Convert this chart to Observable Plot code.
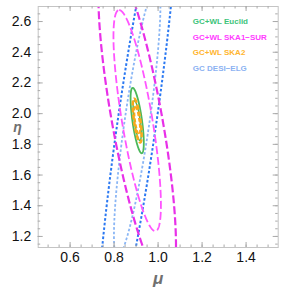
<!DOCTYPE html>
<html><head><meta charset="utf-8">
<script src="https://cdn.jsdelivr.net/npm/d3@7"></script>
<script src="https://cdn.jsdelivr.net/npm/@observablehq/plot@0.6"></script>
<style>body{margin:0;background:#fff;}</style>
</head><body><div id="chart"></div>
<script>
// Axis ticks
const xTicks = [0.6, 0.8, 1.0, 1.2, 1.4];
const yTicks = [1.2, 1.4, 1.6, 1.8, 2.0, 2.2, 2.4, 2.6];
const xMinor = [0.5,0.55,0.6,0.65,0.7,0.75,0.8,0.85,0.9,0.95,1.0,1.05,1.1,1.15,1.2,1.25,1.3,1.35,1.4,1.45,1.5];
const yMinor = [1.15,1.2,1.25,1.3,1.35,1.4,1.45,1.5,1.55,1.6,1.65,1.7,1.75,1.8,1.85,1.9,1.95,2.0,2.05,2.1,2.15,2.2,2.25,2.3,2.35,2.4,2.45,2.5,2.55,2.6,2.65];

// Legend
const legendLabels = ["GC+WL Euclid", "GC+WL SKA1\u2212SUR", "GC+WL SKA2", "GC DESI\u2212ELG"];
const legendColors = ["#3cc47a", "#ff3cff", "#ffb52e", "#8cb2f2"];

// Confidence contours: centre, eta half-extent, mu half-width at centre, mu-eta slope
const contourName  = ["DESI 2σ", "DESI 1σ", "SKA1 2σ", "SKA1 1σ", "Euclid 2σ", "Euclid 1σ", "SKA2 2σ", "SKA2 1σ"];
const centerMu     = [0.905, 0.905, 0.905, 0.905, 0.905, 0.905, 0.905, 0.905];
const centerEta    = [1.955, 1.955, 1.955, 1.955, 1.955, 1.955, 1.955, 1.955];
const halfEta      = [1.63, 0.89, 1.08, 0.72, 0.213, 0.13, 0.143, 0.091];
const halfMu       = [0.0886, 0.057, 0.116, 0.07, 0.022, 0.0136, 0.015, 0.0095];
const slopeMuEta   = [0.100, 0.100, -0.123, -0.114, -0.096, -0.096, -0.096, -0.096];
const contourColor = ["#2a78f2", "#8ab6f5", "#e830e8", "#ff55ff", "#4cb85a", "#4cb85a", "#f9a81a", "#f9a81a"];
const contourWidth = [2, 1.8, 2.2, 1.8, 1.8, 1.4, 2.4, 1.8];
const contourDash  = ["2.6,2", "2.6,2", "8,3", "8,3", null, null, "5,2", "4,2"];

function outline(i) {
  const pts = [];
  const n = 360;
  for (let k = 0; k <= n; k++) {
    const t = 2 * Math.PI * k / n;
    const de = halfEta[i] * Math.cos(t);
    pts.push({mu: centerMu[i] + slopeMuEta[i] * de + halfMu[i] * Math.sin(t), eta: centerEta[i] + de});
  }
  return pts;
}

const W = 291, H = 291, mL = 37.7, mR = 13.3, mT = 6, mB = 44;
const iw = W - mL - mR, ih = H - mT - mB;
const tickCol = "#aaa";

const marks = [];
for (let i = 0; i < contourName.length; i++) {
  marks.push(Plot.line(outline(i), {x: "mu", y: "eta", stroke: contourColor[i], strokeWidth: contourWidth[i],
    strokeDasharray: contourDash[i] || undefined, strokeLinecap: "butt", clip: true}));
}
marks.push(
  Plot.frame({stroke: "#c4c4c4"}),
  Plot.tickX(xMinor, {x: d => d, stroke: tickCol, insetTop: ih - 2.5}),
  Plot.tickX(xMinor, {x: d => d, stroke: tickCol, insetBottom: ih - 2.5}),
  Plot.tickX(xTicks, {x: d => d, stroke: tickCol, insetTop: ih - 5}),
  Plot.tickX(xTicks, {x: d => d, stroke: tickCol, insetBottom: ih - 5}),
  Plot.tickY(yMinor, {y: d => d, stroke: tickCol, insetRight: iw - 2.5}),
  Plot.tickY(yMinor, {y: d => d, stroke: tickCol, insetLeft: iw - 2.5}),
  Plot.tickY(yTicks, {y: d => d, stroke: tickCol, insetRight: iw - 5}),
  Plot.tickY(yTicks, {y: d => d, stroke: tickCol, insetLeft: iw - 5}),
  Plot.axisX(xTicks, {tickSize: 0, tickPadding: 5, tickFormat: d3.format(".1f"), fontSize: 14, label: null, fill: "#111"}),
  Plot.axisY(yTicks, {tickSize: 0, tickPadding: 7, tickFormat: d3.format(".1f"), fontSize: 14, label: null, fill: "#111"}),
  Plot.text(["μ"], {frameAnchor: "bottom", dy: 36, fontSize: 17, fontStyle: "italic", fontWeight: "bold", fill: "#707070"}),
  Plot.text(["η"], {frameAnchor: "left", dx: -25, dy: 1, fontSize: 14, fontStyle: "italic", fontWeight: "bold", fill: "#707070"})
);
legendLabels.forEach((lab, i) => {
  marks.push(Plot.text([lab], {frameAnchor: "top-left", textAnchor: "start", dx: 154.6, dy: 12.3 + i * 15.45,
    fontSize: 8, fontWeight: "bold", fill: legendColors[i]}));
});

const chart = Plot.plot({
  width: W, height: H,
  marginLeft: mL, marginRight: mR, marginTop: mT, marginBottom: mB,
  style: {fontFamily: "Liberation Sans, Arial, sans-serif", background: "white"},
  x: {domain: [0.455, 1.546]},
  y: {domain: [1.128, 2.698]},
  marks
});
document.getElementById("chart").appendChild(chart);
</script>
</body></html>
